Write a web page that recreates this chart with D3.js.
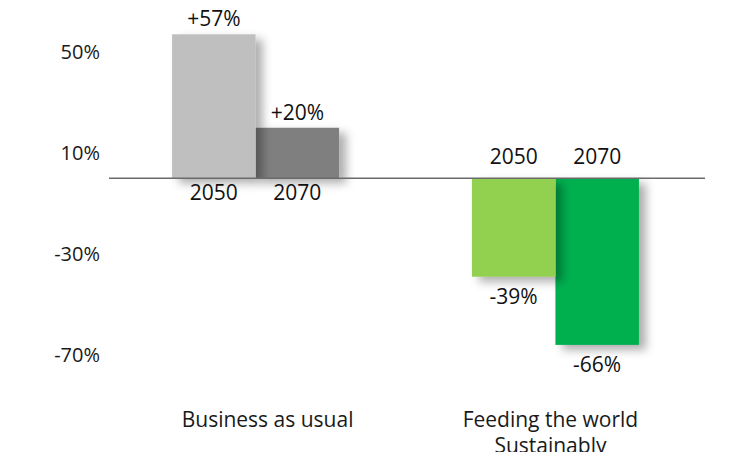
<!DOCTYPE html>
<html>
<head>
<meta charset="utf-8">
<script src="https://cdn.jsdelivr.net/npm/d3@7"></script>
<style>
  html, body { margin: 0; padding: 0; background: #fff; }
  svg { display: block; }
</style>
</head>
<body>
<svg id="chart" width="740" height="452"></svg>
<script>
// Scenario data: change relative to today
const groups = ["Business as usual", "Feeding the world Sustainably"];
const groupLines = [["Business as usual"], ["Feeding the world", "Sustainably"]];
const years = ["2050", "2070"];
const values = [[57, 20], [-39, -66]];
const valueLabels = [["+57%", "+20%"], ["-39%", "-66%"]];
const yTicks = [50, 10, -30, -70];
const colors = [["#bfbfbf", "#7f7f7f"], ["#92d050", "#00b050"]];

const svg = d3.select("#chart");

const defs = svg.append("defs");
const f = defs.append("filter").attr("id", "shadow")
  .attr("x", "-30%").attr("y", "-30%").attr("width", "160%").attr("height", "160%");
f.append("feDropShadow").attr("dx", 7).attr("dy", 5).attr("stdDeviation", 5)
  .attr("flood-color", "#000").attr("flood-opacity", 0.32);

const y = d3.scaleLinear().domain([-70, 50]).range([355, 52]);
const x0 = d3.scaleBand().domain(groups).range([105.5, 705.5])
  .paddingInner(0.443).paddingOuter(0.222);
const x1 = d3.scaleBand().domain(years).range([0, x0.bandwidth()]);

const sansFont = "'Open Sans', sans-serif";

// Y axis: labels only
const yAxis = svg.append("g")
  .attr("transform", "translate(100,0)")
  .call(d3.axisLeft(y).tickValues(yTicks).tickSize(0).tickPadding(0)
    .tickFormat(d => d + "%"));
yAxis.select(".domain").remove();
yAxis.selectAll("text")
  .attr("font-family", sansFont)
  .attr("font-size", 20).attr("fill", "#1a1a1a");

const rows = groups.map((g, gi) => years.map((yr, yi) => ({
  g, gi, yr, yi, v: values[gi][yi], label: valueLabels[gi][yi], color: colors[gi][yi]
})));

// Bars: later year first so the earlier bar's shadow falls across it
const bars = svg.append("g");
rows.forEach(r => {
  [...r].reverse().forEach(d => {
    bars.append("rect")
      .attr("x", x0(d.g) + x1(d.yr))
      .attr("y", y(Math.max(0, d.v)))
      .attr("width", x1.bandwidth())
      .attr("height", Math.abs(y(d.v) - y(0)))
      .attr("fill", d.color)
      .attr("filter", "url(#shadow)");
  });
});

// Baseline
svg.append("line")
  .attr("x1", 109).attr("x2", 705)
  .attr("y1", y(0)).attr("y2", y(0))
  .attr("stroke", "#6b6b6b").attr("stroke-width", 1.5);

const flat = rows.flat();
const cx = d => x0(d.g) + x1(d.yr) + x1.bandwidth() / 2;

// Value labels
svg.append("g").selectAll("text").data(flat).join("text")
  .attr("x", cx)
  .attr("y", d => d.v >= 0 ? y(d.v) - 8 : y(d.v) + 27)
  .attr("text-anchor", "middle")
  .attr("font-family", sansFont).attr("font-size", 21).attr("fill", "#111")
  .text(d => d.label);

// Year labels on the side of the baseline away from the bar
svg.append("g").selectAll("text").data(flat).join("text")
  .attr("x", cx)
  .attr("y", d => d.v >= 0 ? y(0) + 22 : y(0) - 14)
  .attr("text-anchor", "middle")
  .attr("font-family", sansFont).attr("font-size", 21).attr("fill", "#111")
  .text(d => d.yr);

// Category labels
const cat = svg.append("g").selectAll("text").data(groups).join("text")
  .attr("x", (d, i) => x0(d) + x0.bandwidth() / 2 + (i === 0 ? 12 : -5))
  .attr("y", 427)
  .attr("text-anchor", "middle")
  .attr("font-family", sansFont).attr("font-size", 21).attr("fill", "#1a1a1a");
cat.each(function (d, i) {
  const t = d3.select(this);
  const tx = t.attr("x");
  groupLines[i].forEach((line, li) => {
    t.append("tspan").attr("x", tx).attr("dy", li === 0 ? 0 : 26).text(line);
  });
});
</script>
</body>
</html>
